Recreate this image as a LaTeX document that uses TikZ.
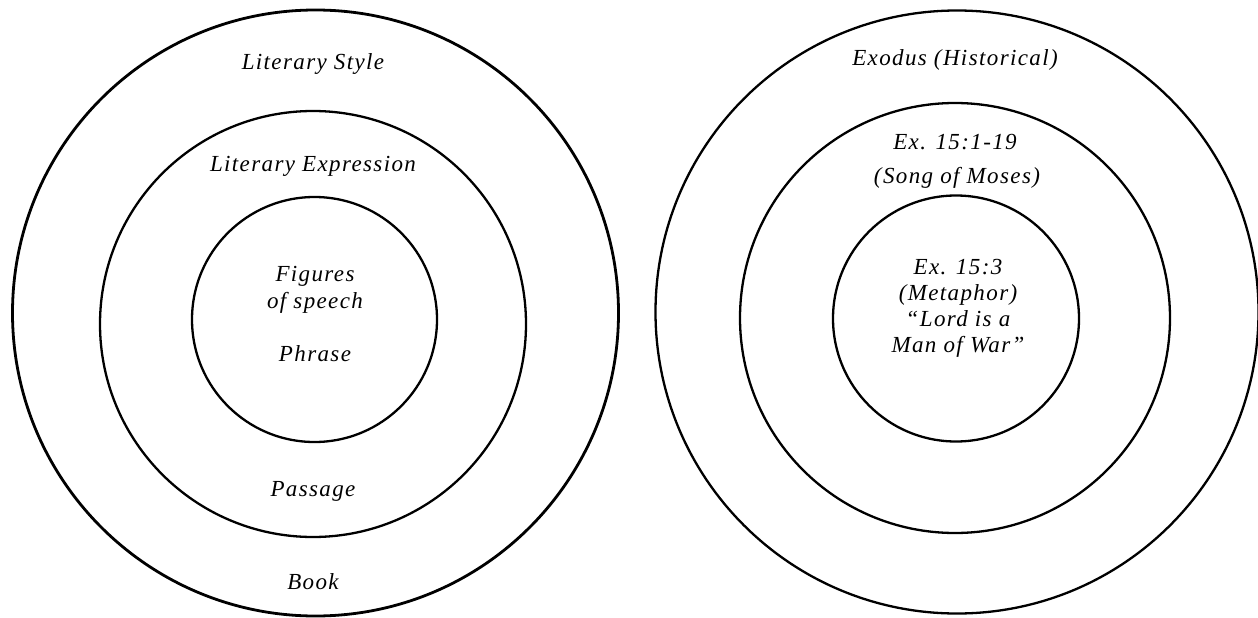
\documentclass[tikz,border=0pt]{standalone}
\usepackage{fontspec}
\setmainfont{Liberation Serif}
\begin{document}
\begin{tikzpicture}[x=1pt,y=-1pt,
  ring/.style={draw,circle,line width=2.3pt,inner sep=0pt,outer sep=0pt},
  lab/.style={font=\fontsize{23}{27}\selectfont\itshape\addfontfeature{LetterSpace=6},inner sep=0pt,align=center}]
\useasboundingbox (0,0) rectangle (1258,618);
% left diagram
\node[ring,minimum size=606pt,line width=2.8pt] (LO) at (315.5,313) {};
\node[ring,minimum size=426pt] (LM) at (313,324) {};
\node[ring,minimum size=245pt] (LI) at (314.5,319.5) {};
\node[lab] (ls) at (313,64) {Literary Style};
\node[lab] (le) at (313,166) {Literary Expression};
\node[lab] (fs) at (315,290) {Figures\\of speech};
\node[lab] (ph) at (315,354) {Phrase};
\node[lab] (pa) at (313,491) {Passage};
\node[lab] (bk) at (313,582) {Book};
% right diagram
\node[ring,minimum size=603pt] (RO) at (957,312) {};
\node[ring,minimum size=430pt] (RM) at (955,318) {};
\node[ring,minimum size=246pt] (RI) at (956,318.5) {};
\node[lab] (ex) at (955,60) {Exodus (Historical)};
\node[lab] (e1) at (955,142) {Ex. 15:1-19};
\node[lab] (sm) at (957,178) {(Song of Moses)};
\node[lab,font=\fontsize{23}{26}\selectfont\itshape\addfontfeature{LetterSpace=6}] (e3) at (958,308) {Ex. 15:3\\(Metaphor)\\``Lord is a\\Man of War''};
\end{tikzpicture}
\end{document}
